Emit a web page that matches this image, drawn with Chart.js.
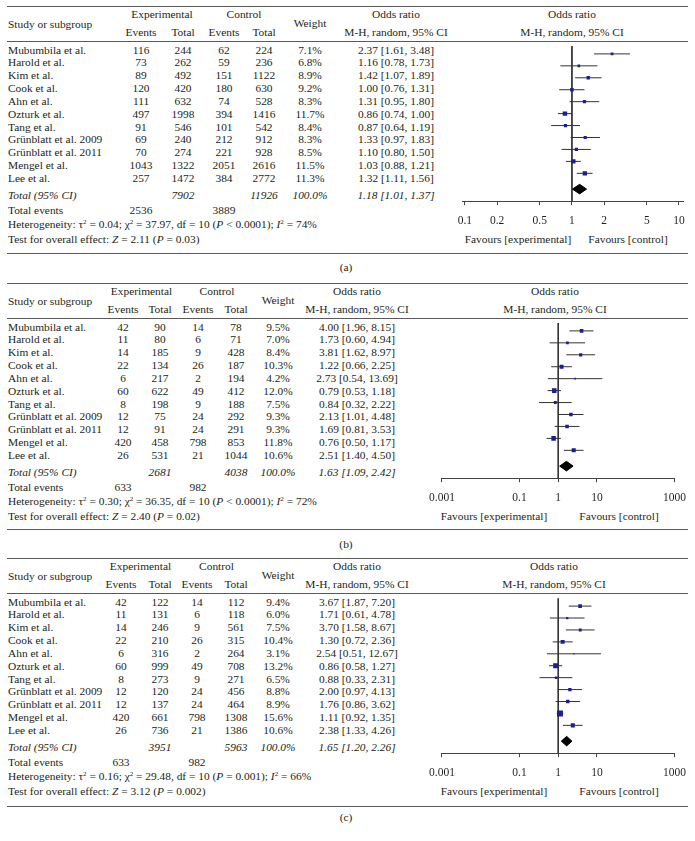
<!DOCTYPE html>
<html>
<head>
<meta charset="utf-8">
<script src="https://cdn.jsdelivr.net/npm/chart.js@4.4.1/dist/chart.umd.min.js"></script>
<style>
  body { margin: 0; background: #fff; }
  #page { position: relative; width: 695px; height: 841px; font-family: "Liberation Serif", "DejaVu Serif", serif; color: #231f20; }
  .t { position: absolute; font-size: 11.4px; line-height: 1; white-space: nowrap; }
  .t sup { font-size: 7px; vertical-align: 0; position: relative; top: -4px; }
  .rule { position: absolute; left: 7px; width: 681px; height: 0; border-top: 1.5px solid #5a5a5a; }
  canvas { position: absolute; }
</style>
</head>
<body>
<div id="page"></div>
<script>
// Study names (same in every panel)
const studies = ["Mubumbila et al.", "Harold et al.", "Kim et al.", "Cook et al.", "Ahn et al.",
  "Ozturk et al.", "Tang et al.", "Grünblatt et al. 2009", "Grünblatt et al. 2011", "Mengel et al.", "Lee et al."];

// Panel (a)
const aExpEvents = [116, 73, 89, 120, 111, 497, 91, 69, 70, 1043, 257];
const aExpTotal = [244, 262, 492, 420, 632, 1998, 546, 240, 274, 1322, 1472];
const aCtrlEvents = [62, 59, 151, 180, 74, 394, 101, 212, 221, 2051, 384];
const aCtrlTotal = [224, 236, 1122, 630, 528, 1416, 542, 912, 928, 2616, 2772];
const aWeight = [7.1, 6.8, 8.9, 9.2, 8.3, 11.7, 8.4, 8.3, 8.5, 11.5, 11.3];
const aOdds = [2.37, 1.16, 1.42, 1.00, 1.31, 0.86, 0.87, 1.33, 1.10, 1.03, 1.32];
const aLow = [1.61, 0.78, 1.07, 0.76, 0.95, 0.74, 0.64, 0.97, 0.80, 0.88, 1.11];
const aHigh = [3.48, 1.73, 1.89, 1.31, 1.80, 1.00, 1.19, 1.83, 1.50, 1.21, 1.56];
const aTotals = [7902, 11926];
const aTotalEvents = [2536, 3889];
const aPooled = [1.18, 1.01, 1.37];
const aHetero = ["0.04", "37.97", "10", "< 0.0001", "74"];
const aOverall = ["2.11", "= 0.03"];
const aTicks = [0.1, 0.2, 0.5, 1, 2, 5, 10];

// Panel (b)
const bExpEvents = [42, 11, 14, 22, 6, 60, 8, 12, 12, 420, 26];
const bExpTotal = [90, 80, 185, 134, 217, 622, 198, 75, 91, 458, 531];
const bCtrlEvents = [14, 6, 9, 26, 2, 49, 9, 24, 24, 798, 21];
const bCtrlTotal = [78, 71, 428, 187, 194, 412, 188, 292, 291, 853, 1044];
const bWeight = [9.5, 7.0, 8.4, 10.3, 4.2, 12.0, 7.5, 9.3, 9.3, 11.8, 10.6];
const bOdds = [4.00, 1.73, 3.81, 1.22, 2.73, 0.79, 0.84, 2.13, 1.69, 0.76, 2.51];
const bLow = [1.96, 0.60, 1.62, 0.66, 0.54, 0.53, 0.32, 1.01, 0.81, 0.50, 1.40];
const bHigh = [8.15, 4.94, 8.97, 2.25, 13.69, 1.18, 2.22, 4.48, 3.53, 1.17, 4.50];
const bTotals = [2681, 4038];
const bTotalEvents = [633, 982];
const bPooled = [1.63, 1.09, 2.42];
const bHetero = ["0.30", "36.35", "10", "< 0.0001", "72"];
const bOverall = ["2.40", "= 0.02"];

// Panel (c)
const cExpEvents = [42, 11, 14, 22, 6, 60, 8, 12, 12, 420, 26];
const cExpTotal = [122, 131, 246, 210, 316, 999, 273, 120, 137, 661, 736];
const cCtrlEvents = [14, 6, 9, 26, 2, 49, 9, 24, 24, 798, 21];
const cCtrlTotal = [112, 118, 561, 315, 264, 708, 271, 456, 464, 1308, 1386];
const cWeight = [9.4, 6.0, 7.5, 10.4, 3.1, 13.2, 6.5, 8.8, 8.9, 15.6, 10.6];
const cOdds = [3.67, 1.71, 3.70, 1.30, 2.54, 0.86, 0.88, 2.00, 1.76, 1.11, 2.38];
const cLow = [1.87, 0.61, 1.58, 0.72, 0.51, 0.58, 0.33, 0.97, 0.86, 0.92, 1.33];
const cHigh = [7.20, 4.78, 8.67, 2.36, 12.67, 1.27, 2.31, 4.13, 3.62, 1.35, 4.26];
const cTotals = [3951, 5963];
const cTotalEvents = [633, 982];
const cPooled = [1.65, 1.20, 2.26];
const cHetero = ["0.16", "29.48", "10", "= 0.001", "66"];
const cOverall = ["3.12", "= 0.002"];

const wideTicks = [0.001, 0.1, 1, 10, 1000];

// layout (offsets inside a panel, px)
const ROW0 = 43.5, PITCH = 12.85;
const TOTAL_Y = 189, EVENTS_Y = 204, HET_Y = 218, TEST_Y = 233;
const PLOT_TOP = 35, AXIS_Y = 202;
const Y_MIN = (PLOT_TOP - ROW0) / PITCH;
const Y_MAX = (AXIS_Y - ROW0) / PITCH;
const TOTAL_ROW = (TOTAL_Y - ROW0) / PITCH;

const page = document.getElementById("page");
const FONT = '"Liberation Serif", "DejaVu Serif", serif';

function txt(x, y, html, align, style) {
  const el = document.createElement("div");
  el.className = "t";
  el.innerHTML = html;
  el.style.left = x + "px";
  el.style.top = y + "px";
  el.style.transform = align === "left" ? "translate(0,-50%)" : "translate(-50%,-50%)";
  if (style) el.style.cssText += style;
  page.appendChild(el);
}

function rule(y) {
  const el = document.createElement("div");
  el.className = "rule";
  el.style.top = y + "px";
  page.appendChild(el);
}

const fmt = (v) => v.toFixed(2);

function buildPanel(p) {
  const top = p.top;
  const [ee, et, ce, ct, wc, oc] = p.cols;
  const it = "font-style:italic;";

  rule(top - 1);
  rule(top + PLOT_TOP - 1);
  rule(top + p.bottomRule);

  // header
  txt(8, top + 18, "Study or subgroup", "left");
  txt((ee + et) / 2, top + 8, "Experimental");
  txt((ce + ct) / 2, top + 8, "Control");
  txt(ee, top + 26, "Events"); txt(et, top + 26, "Total");
  txt(ce, top + 26, "Events"); txt(ct, top + 26, "Total");
  txt(wc, top + 17, "Weight");
  txt(oc, top + 8, "Odds ratio");
  txt(oc, top + 26, "M-H, random, 95% CI");
  txt(p.plotMid, top + 8, "Odds ratio");
  txt(p.plotMid, top + 26, "M-H, random, 95% CI");

  // study rows
  studies.forEach((s, i) => {
    const y = top + ROW0 + PITCH * i;
    txt(8, y, s, "left");
    txt(ee, y, p.expEvents[i]);
    txt(et, y, p.expTotal[i]);
    txt(ce, y, p.ctrlEvents[i]);
    txt(ct, y, p.ctrlTotal[i]);
    txt(wc, y, p.weight[i].toFixed(1) + "%");
    txt(oc, y, fmt(p.odds[i]) + " [" + fmt(p.low[i]) + ", " + fmt(p.high[i]) + "]");
  });

  // totals
  txt(8, top + TOTAL_Y, "Total (95% CI)", "left", it);
  txt(et, top + TOTAL_Y, p.totals[0], null, it);
  txt(ct, top + TOTAL_Y, p.totals[1], null, it);
  txt(wc, top + TOTAL_Y, "100.0%", null, it);
  txt(oc, top + TOTAL_Y, fmt(p.pooled[0]) + " [" + fmt(p.pooled[1]) + ", " + fmt(p.pooled[2]) + "]", null, it);
  txt(8, top + EVENTS_Y, "Total events", "left");
  txt(ee, top + EVENTS_Y, p.totalEvents[0]);
  txt(ce, top + EVENTS_Y, p.totalEvents[1]);
  const h = p.hetero;
  txt(8, top + HET_Y, "Heterogeneity: τ<sup>2</sup> = " + h[0] + "; χ<sup>2</sup> = " + h[1] +
    ", df = " + h[2] + " (<i>P</i> " + h[3].replace("<", "&lt;") + "); <i>I</i><sup>2</sup> = " + h[4] + "%", "left");
  txt(8, top + TEST_Y, "Test for overall effect: <i>Z</i> = " + p.overall[0] + " (<i>P</i> " + p.overall[1] + ")", "left");

  txt(p.favExp, top + TEST_Y, "Favours [experimental]");
  txt(p.favCtrl, top + TEST_Y, "Favours [control]");
  txt(346, top + p.labelY, p.label);

  // forest plot
  const canvas = document.createElement("canvas");
  canvas.width = 275; canvas.height = 195;
  canvas.style.left = "420px";
  canvas.style.top = (top + PLOT_TOP) + "px";
  page.appendChild(canvas);

  const datasets = [];
  datasets.push({
    data: p.odds.map((v, i) => ({ x: v, y: i })),
    pointStyle: "rect",
    pointRadius: p.weight.map((w) => w * 0.27),
    backgroundColor: "#1d1d96",
    borderWidth: 0,
    order: 0
  });
  const dh = 0.4;
  datasets.push({
    data: [
      { x: p.pooled[1], y: TOTAL_ROW },
      { x: p.pooled[0], y: TOTAL_ROW - dh },
      { x: p.pooled[2], y: TOTAL_ROW },
      { x: p.pooled[0], y: TOTAL_ROW + dh },
      { x: p.pooled[1], y: TOTAL_ROW }
    ],
    showLine: true, fill: "shape", backgroundColor: "#000", borderColor: "#000",
    borderWidth: 1, pointRadius: 0, order: 0
  });
  p.low.forEach((lo, i) => {
    datasets.push({
      data: [{ x: lo, y: i }, { x: p.high[i], y: i }],
      showLine: true, borderColor: "#333", borderWidth: 1, pointRadius: 0, order: 1
    });
  });
  datasets.push({
    data: [{ x: 1, y: Y_MIN }, { x: 1, y: Y_MAX }],
    showLine: true, borderColor: "#333", borderWidth: 1, pointRadius: 0, order: 2
  });

  new Chart(canvas, {
    type: "scatter",
    data: { datasets },
    options: {
      responsive: false,
      animation: false,
      devicePixelRatio: 1,
      layout: { padding: { left: p.padL, right: p.padR, top: 0, bottom: 0 } },
      plugins: { legend: { display: false }, tooltip: { enabled: false } },
      scales: {
        x: {
          type: "logarithmic",
          min: p.min, max: p.max,
          afterBuildTicks: (axis) => { axis.ticks = p.ticks.map((v) => ({ value: v })); },
          ticks: {
            callback: (v) => String(v),
            autoSkip: false, maxRotation: 0, padding: 9,
            color: "#231f20", font: { family: FONT, size: 11.5 }
          },
          grid: { drawOnChartArea: false, drawTicks: true, tickLength: 4, tickColor: "#444" },
          border: { color: "#444", width: 1 }
        },
        y: { type: "linear", min: Y_MIN, max: Y_MAX, reverse: true, display: false }
      }
    }
  });
}

buildPanel({
  top: 7, cols: [141, 183, 224, 264, 310, 396], plotMid: 572,
  expEvents: aExpEvents, expTotal: aExpTotal, ctrlEvents: aCtrlEvents, ctrlTotal: aCtrlTotal,
  weight: aWeight, odds: aOdds, low: aLow, high: aHigh, totals: aTotals, totalEvents: aTotalEvents,
  pooled: aPooled, hetero: aHetero, overall: aOverall,
  ticks: aTicks, min: 0.094, max: 10.9, padL: 42, padR: 12,
  favExp: 518, favCtrl: 628, bottomRule: 246, labelY: 261, label: "(a)"
});
buildPanel({
  top: 284, cols: [123, 160, 198, 236, 278, 357], plotMid: 555,
  expEvents: bExpEvents, expTotal: bExpTotal, ctrlEvents: bCtrlEvents, ctrlTotal: bCtrlTotal,
  weight: bWeight, odds: bOdds, low: bLow, high: bHigh, totals: bTotals, totalEvents: bTotalEvents,
  pooled: bPooled, hetero: bHetero, overall: bOverall,
  ticks: wideTicks, min: 0.001, max: 1000, padL: 12, padR: 17,
  favExp: 494, favCtrl: 619, bottomRule: 245, labelY: 261, label: "(b)"
});
buildPanel({
  top: 559, cols: [121, 160, 197, 236, 278, 357], plotMid: 554,
  expEvents: cExpEvents, expTotal: cExpTotal, ctrlEvents: cCtrlEvents, ctrlTotal: cCtrlTotal,
  weight: cWeight, odds: cOdds, low: cLow, high: cHigh, totals: cTotals, totalEvents: cTotalEvents,
  pooled: cPooled, hetero: cHetero, overall: cOverall,
  ticks: wideTicks, min: 0.001, max: 1000, padL: 12, padR: 17,
  favExp: 494, favCtrl: 619, bottomRule: 247, labelY: 259, label: "(c)"
});
</script>
</body>
</html>
